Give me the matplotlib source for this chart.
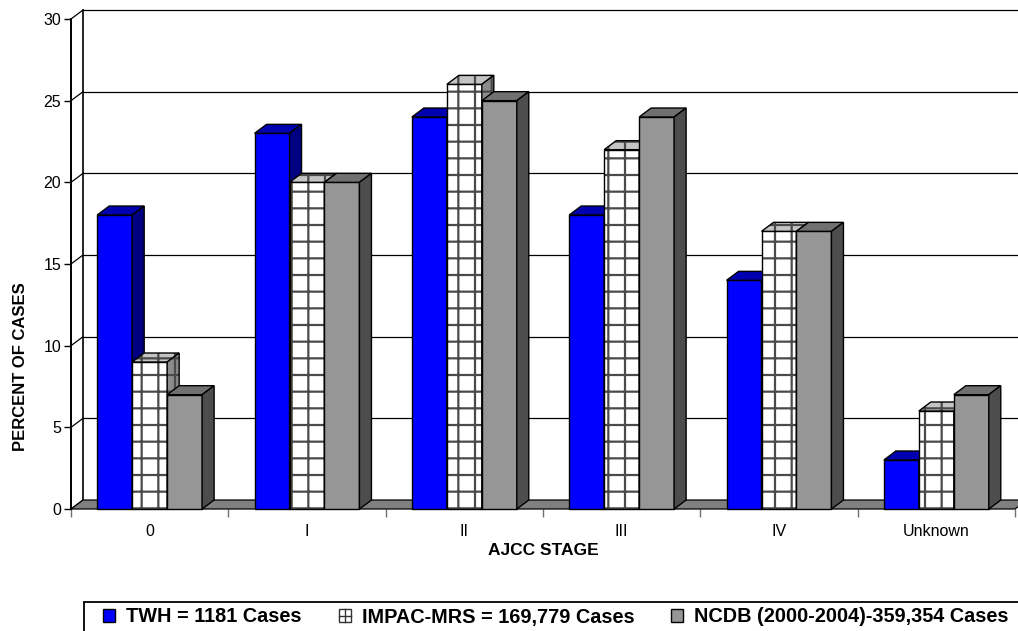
import matplotlib
matplotlib.use("Agg")
import matplotlib.pyplot as plt
from matplotlib.patches import Polygon, Patch, Rectangle
from matplotlib.lines import Line2D
from matplotlib.legend_handler import HandlerBase

plt.rcParams['font.family'] = ['Liberation Sans', 'DejaVu Sans']
plt.rcParams['hatch.linewidth'] = 1.6

# ---- data ----
categories = ['0', 'I', 'II', 'III', 'IV', 'Unknown']
twh = [18, 23, 24, 18, 14, 3]
impac = [9, 20, 26, 22, 17, 6]
ncdb = [7, 20, 25, 24, 17, 7]
series_labels = ['TWH = 1181 Cases', 'IMPAC-MRS = 169,779 Cases',
                 'NCDB (2000-2004)-359,354 Cases']
y_ticks = [0, 5, 10, 15, 20, 25, 30]

# ---- styling ----
W, H, DPI = 1018, 631, 100
YMAX = 30
DX, DY = 0.0763, 0.55          # depth offset in data units
BAR_W = 1 / 4.5                # 150% gap width
HATCH_C = '#4a4a4a'
styles = [
    dict(front='#0000ff', top='#0000b0', side='#000080', hatch=None),
    dict(front='#ffffff', top='#c4c4c4', side='#8c8c8c', hatch='+'),
    dict(front='#969696', top='#707070', side='#4d4d4d', hatch=None),
]

fig = plt.figure(figsize=(W / DPI, H / DPI), dpi=DPI)
ax = fig.add_axes([71 / W, (H - 509) / H, 944 / W, 490 / H])
n = len(categories)
ax.set_xlim(0, n)
ax.set_ylim(0, YMAX)


def face(pts, fc, hatch, z):
    if hatch:
        ax.add_patch(Polygon(pts, closed=True, facecolor=fc, edgecolor=HATCH_C,
                             linewidth=0, hatch=hatch, zorder=z, clip_on=False))
        ax.add_patch(Polygon(pts, closed=True, fill=False, edgecolor='black',
                             linewidth=1.0, zorder=z + 0.01, clip_on=False))
    else:
        ax.add_patch(Polygon(pts, closed=True, facecolor=fc, edgecolor='black',
                             linewidth=1.0, zorder=z, clip_on=False))


def bar3d(x0, v, st, z):
    x1 = x0 + BAR_W
    face([(x0, 0), (x1, 0), (x1, v), (x0, v)], st['front'], st['hatch'], z)
    face([(x0, v), (x1, v), (x1 + DX, v + DY), (x0 + DX, v + DY)],
         st['top'], st['hatch'], z + 0.1)
    face([(x1, 0), (x1 + DX, DY), (x1 + DX, v + DY), (x1, v)],
         st['side'], st['hatch'], z + 0.2)


# back wall gridlines and left wall diagonals
for t in y_ticks:
    if t > 0:
        ax.plot([DX, n + DX], [t + DY, t + DY], color='black', lw=0.9,
                zorder=1, clip_on=False)
    ax.plot([0, DX], [t, t + DY], color='black', lw=0.9, zorder=1, clip_on=False)
ax.plot([DX, DX], [DY, YMAX + DY], color='black', lw=1.2, zorder=1, clip_on=False)

# floor
ax.add_patch(Polygon([(0, 0), (n, 0), (n + DX, DY), (DX, DY)], closed=True,
                     facecolor='#808080', edgecolor='black', linewidth=0.9,
                     zorder=2, clip_on=False))

# bars
z = 3
for i in range(n):
    start = i + 0.75 * BAR_W
    for j, vals in enumerate([twh, impac, ncdb]):
        bar3d(start + j * BAR_W, vals[i], styles[j], z)
        z += 1

# axes cosmetics
for s in ['top', 'right', 'bottom']:
    ax.spines[s].set_visible(False)
ax.spines['left'].set_linewidth(1.4)
ax.spines['left'].set_zorder(100)
ax.set_yticks(y_ticks)
ax.tick_params(axis='y', direction='out', length=5, width=1, pad=2,
               labelsize=11.5)
ax.set_xticks(range(n + 1))
ax.set_xticklabels([])
ax.set_xticks([i + 0.5 for i in range(n)], minor=True)
ax.set_xticklabels(categories, minor=True)
ax.tick_params(axis='x', which='major', direction='out', length=6, width=1,
               color='#707070')
ax.tick_params(axis='x', which='minor', length=0, pad=11, labelsize=11.5)

fig.text(543 / W, 1 - 555 / H, 'AJCC STAGE', ha='center', va='baseline',
         fontsize=12.5, fontweight='bold')
fig.text(21 / W, 264 / H, 'PERCENT OF CASES', ha='center', va='center',
         rotation=90, fontsize=12, fontweight='bold')


class GridSquareHandler(HandlerBase):
    """Legend key: white square split by a cross, like a grid-pattern fill."""

    def create_artists(self, legend, orig_handle, xdescent, ydescent,
                       width, height, fontsize, trans):
        x0, y0 = -xdescent, -ydescent
        col = '#333333'
        sq = Rectangle((x0, y0), width, height, facecolor='white',
                       edgecolor=col, linewidth=1.0, transform=trans)
        v = Line2D([x0 + width / 2] * 2, [y0, y0 + height], color=col,
                   linewidth=1.0, transform=trans)
        h = Line2D([x0, x0 + width], [y0 + height / 2] * 2, color=col,
                   linewidth=1.0, transform=trans)
        return [sq, v, h]


handles = [Patch(facecolor=st['front'], edgecolor='black', linewidth=1.0)
           for st in styles]
fs = 14.3
px_per_em = fs * DPI / 72
leg = fig.legend(handles, series_labels, ncol=3, loc='center left',
                 bbox_to_anchor=(103 / W, 1 - 617 / H),
                 prop={'size': fs, 'weight': 'bold'},
                 handler_map={handles[1]: GridSquareHandler()},
                 handlelength=12 / px_per_em, handleheight=12 / px_per_em,
                 handletextpad=11 / px_per_em, columnspacing=37 / px_per_em,
                 borderpad=0, borderaxespad=0, frameon=False)

# legend frame: open at the bottom/right, running past the figure edge
fig.patches.append(Rectangle((84 / W, -0.05), 1.0, (631 - 602) / H + 0.05,
                             transform=fig.transFigure, fill=False,
                             edgecolor='black', linewidth=1.3, clip_on=False))

fig.savefig('out.png', dpi=DPI, facecolor='white')
